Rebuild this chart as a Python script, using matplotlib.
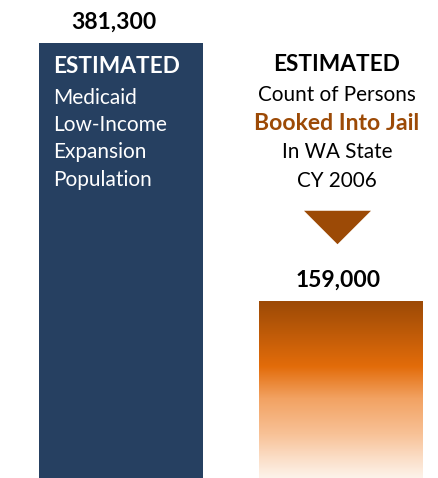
import numpy as np
import matplotlib
matplotlib.use("Agg")
import matplotlib.pyplot as plt
from matplotlib.colors import LinearSegmentedColormap
from matplotlib.path import Path
import matplotlib.transforms as mtransforms

plt.rcParams["font.family"] = ["Lato", "DejaVu Sans"]

# Two estimates compared side by side
positions = [0, 1]
values = [381300, 159000]
value_labels = ["381,300", "159,000"]
left_lines = ["Medicaid", "Low-Income", "Expansion", "Population"]
right_lines = ["Count of Persons", "Booked Into Jail", "In WA State", "CY 2006"]

navy = "#264061"
brown = "#9C4A06"

fig = plt.figure(figsize=(4.38, 4.78), dpi=100)
ax = fig.add_axes([0, 0, 1, 1])
ax.set_xlim(-0.55, 1.441)
ax.set_ylim(6886, 418310)
ax.axis("off")

width = 0.745
bars = ax.bar(positions, values, width=width, color=[navy, "none"])

# orange gradient fill for the jail bar, dark at the top fading to white
grad = LinearSegmentedColormap.from_list(
    "jail", [(0.0, "#fdf3ea"), (0.12, "#fbdcc4"), (0.25, "#f8c196"),
             (0.45, "#f2a262"), (0.63, "#e36c0a"), (1.0, "#9c4a06")])
b = bars[1]
img = ax.imshow(np.linspace(0, 1, 256).reshape(-1, 1), cmap=grad, aspect="auto",
                origin="lower",
                extent=[b.get_x(), b.get_x() + b.get_width(), ax.get_ylim()[0], b.get_height()],
                zorder=2)
img.set_clip_path(b)
ax.set_xlim(-0.55, 1.441)
ax.set_ylim(6886, 418310)

# value labels above each bar
for x, v, lab in zip(positions, values, value_labels):
    ax.annotate(lab, (x, v), xytext=(-3 if x else -7, 21), textcoords="offset pixels",
                ha="center", va="center", fontsize=16.5, fontweight="bold", color="black")

# text inside the left bar
left_x = positions[0] - width / 2
ax.annotate("ESTIMATED", (left_x, values[0]), xytext=(14, -24), textcoords="offset pixels",
            ha="left", va="center", fontsize=16.3, fontweight="bold", color="white")
for i, line in enumerate(left_lines):
    ax.annotate(line, (left_x, values[0]), xytext=(14, -55 - 27.2 * i),
                textcoords="offset pixels", ha="left", va="center",
                fontsize=15, color="white")

# caption above the right bar
cx = positions[1]
top = values[0]
ax.annotate("ESTIMATED", (cx, top), xytext=(-4, -22), textcoords="offset pixels",
            ha="center", va="center", fontsize=16.3, fontweight="bold", color="black")
for i, line in enumerate(right_lines):
    bold = line == "Booked Into Jail"
    ax.annotate(line, (cx, top), xytext=(-4, -52 - 28.6 * i), textcoords="offset pixels",
                ha="center", va="center", fontsize=16.6 if bold else 14.9,
                fontweight="bold" if bold else "normal",
                color=brown if bold else "black")

# flat down arrow between caption and bar
arrow = Path([(-1, 0.5), (1, 0.5), (0, -0.5), (-1, 0.5)],
             [Path.MOVETO, Path.LINETO, Path.LINETO, Path.CLOSEPOLY])
above_bar = mtransforms.offset_copy(ax.transData, fig=fig, x=-4, y=74.5, units="dots")
ax.scatter([cx], [values[1]], marker=arrow, s=48.2 ** 2, color=brown,
           linewidths=0, transform=above_bar)

fig.savefig("out.png", dpi=100)
